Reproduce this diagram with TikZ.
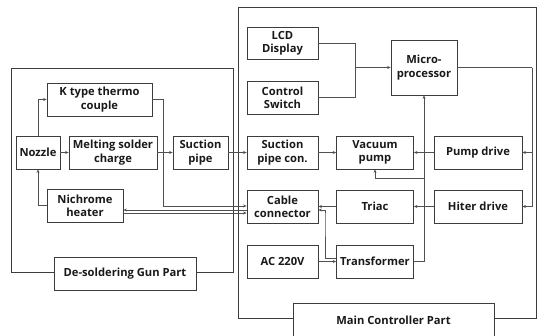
\documentclass[tikz,border=0pt]{standalone}
\usepackage{fontspec}
\setmainfont{Open Sans}
\usetikzlibrary{arrows.meta}
\definecolor{boxc}{HTML}{3C3C3C}
\definecolor{linec}{HTML}{505050}
\tikzset{
  blk/.style={draw=boxc, line width=0.8pt, fill=white, align=center, inner sep=1pt,
    font=\fontsize{11.2}{13.3}\selectfont\bfseries, text=black!90},
  arr/.style={draw=linec, line width=0.8pt, -{Stealth[length=3.5pt,width=3pt]}},
  ln/.style={draw=linec, line width=0.8pt},
  frame/.style={draw=boxc, line width=0.8pt},
}
\begin{document}
\begin{tikzpicture}[x=1pt,y=-1pt]
\useasboundingbox (0,0) rectangle (538,335);
% outer frames
\draw[frame] (11,68) rectangle (233,272);
\draw[frame] (238,7) rectangle (536,318);
% gun part
\node[blk, minimum width=105, minimum height=33] (ktc) at (99.5,99.5) {K type thermo\\couple};
\node[blk, minimum width=44, minimum height=33] (nozzle) at (38,152.5) {Nozzle};
\node[blk, minimum width=88, minimum height=33] (melt) at (113,152.5) {Melting solder\\charge};
\node[blk, minimum width=55, minimum height=33] (spipe) at (200.5,152.5) {Suction\\pipe};
\node[blk, minimum width=76, minimum height=33] (nich) at (85,205.5) {Nichrome\\heater};
\node[blk, minimum width=142, minimum height=33] (gunlbl) at (125,273.5) {De-soldering Gun Part};
% main part
\node[blk, minimum width=71, minimum height=32] (lcd) at (282.5,43) {LCD\\Display};
\node[blk, minimum width=71, minimum height=33] (ctrl) at (282.5,97.5) {Control\\Switch};
\node[blk, minimum width=66, minimum height=55] (micro) at (424,67.5) {Micro-\\processor};
\node[blk, minimum width=71, minimum height=33] (spcon) at (282.5,152.5) {Suction\\pipe con.};
\node[blk, minimum width=77, minimum height=33] (vac) at (375,152.5) {Vacuum\\pump};
\node[blk, minimum width=88, minimum height=33] (pdrv) at (478,152.5) {Pump drive};
\node[blk, minimum width=71, minimum height=33] (cable) at (282.5,206.5) {Cable\\connector};
\node[blk, minimum width=77, minimum height=33] (triac) at (375,206.5) {Triac};
\node[blk, minimum width=88, minimum height=33] (hdrv) at (478,206.5) {Hiter drive};
\node[blk, minimum width=71, minimum height=33] (ac) at (282.5,261.5) {AC 220V};
\node[blk, minimum width=77, minimum height=33] (trans) at (375,261.5) {Transformer};
\node[blk, minimum width=201, minimum height=34] (mainlbl) at (393.5,320) {Main Controller Part};
% junctions
\coordinate (j1) at (355,67.5);
\coordinate (j2) at (532,67.5);
\coordinate (j3) at (424,178);
\coordinate (k1) at (163,99.5);
% gun connectors
\draw[arr] (nozzle.north) |- (ktc.west);
\draw[arr] (nich.west) -| (nozzle.south);
\draw[arr] (nozzle.east) -- (melt.west);
\draw[arr] (melt.east) -- (spipe.west);
\draw[arr] (spipe.east) -- (spcon.west);
\draw[arr] (ktc.east) -- (k1) |- ([yshift=0.5pt]cable.west);
\draw[arr] ([yshift=-3.5pt]cable.west) -- ([yshift=-3.5pt]cable.west -| nich.east);
\draw[arr] ([yshift=-6.5pt]cable.west -| nich.east) -- ([yshift=-6.5pt]cable.west);
% main connectors
\draw[ln] (lcd.east) -| (j1);
\draw[ln] (ctrl.east) -| (j1);
\draw[arr] (j1) -- (micro.west);
\draw[ln] (micro.east) -- (j2);
\draw[arr] (j2) |- (pdrv.east);
\draw[arr] (j2) |- (hdrv.east);
\draw[arr] (pdrv.west) -- (vac.east);
\draw[arr] (hdrv.west) -- (triac.east);
\draw[arr] (spcon.east) -- (vac.west);
\draw[arr] (trans.east) -| (micro.south);
\draw[arr] (j3) -| (vac.south);
\draw[arr] (triac.west) -- (cable.east);
\draw[arr] ([yshift=3.5pt]trans.west) -| (325,215) |- ([yshift=-3.5pt]cable.east);
\draw[arr] (ac.east) -- (trans.west);
\end{tikzpicture}
\end{document}
